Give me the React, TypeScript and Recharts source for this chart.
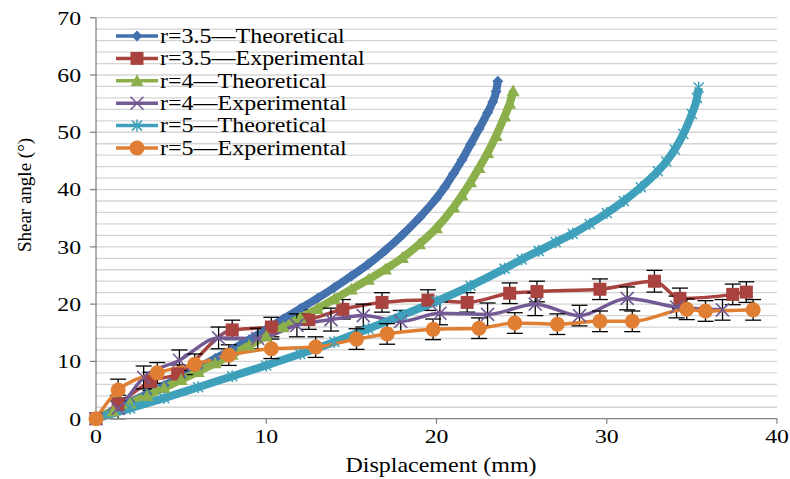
import React from 'react';
import { LineChart, Line, XAxis, YAxis, CartesianGrid, ErrorBar } from 'recharts';

const FONT = '"Liberation Serif", "Times New Roman", Times, serif';

// Theoretical curves
const t35X = [0, 1, 2, 3, 4, 5, 6, 7, 8, 9, 10, 11, 12, 13, 14, 15, 16, 17, 18, 19, 20, 20.5, 21, 21.5, 22, 22.5, 23, 23.3, 23.5, 23.6];
const t35Y = [0, 1.4, 2.9, 4.3, 5.8, 7.3, 8.9, 10.5, 12.1, 13.8, 15.6, 17.4, 19.2, 21.0, 22.9, 24.9, 27.0, 29.4, 32.1, 35.1, 38.5, 40.5, 42.8, 45.2, 47.9, 50.6, 53.4, 55.3, 57.1, 58.9];

const t4X = [0, 1, 2, 3, 4, 5, 6, 7, 8, 9, 10, 11, 12, 13, 14, 15, 16, 17, 18, 19, 20, 21, 21.5, 22, 22.5, 23, 23.5, 24, 24.3, 24.5];
const t4Y = [0, 1.3, 2.7, 4.0, 5.4, 6.8, 8.2, 9.7, 11.2, 12.8, 14.4, 16.0, 17.6, 19.2, 20.9, 22.6, 24.3, 26.1, 28.1, 30.5, 33.3, 36.9, 39.0, 41.3, 43.8, 46.4, 49.4, 52.8, 55.0, 57.2];

const t5X = [0, 2, 4, 6, 8, 10, 12, 14, 16, 18, 20, 22, 24, 25, 26, 27, 28, 29, 30, 31, 32, 33, 33.5, 34, 34.5, 35, 35.3, 35.4];
const t5Y = [0, 1.8, 3.6, 5.5, 7.4, 9.3, 11.3, 13.4, 15.7, 18.1, 20.5, 23.2, 26.2, 27.8, 29.3, 30.8, 32.3, 34.0, 35.9, 38.0, 40.4, 43.2, 44.9, 47.0, 49.7, 53.2, 56.0, 57.8];

// Experimental curves
const e35X = [0, 1.3, 3.2, 4.8, 8.0, 10.3, 12.5, 14.5, 16.8, 19.5, 21.8, 24.3, 25.9, 29.6, 32.8, 34.3, 37.4, 38.2];
const e35Y = [0, 2.5, 6.5, 7.8, 15.5, 16.0, 17.3, 19.1, 20.3, 20.7, 20.3, 21.9, 22.2, 22.6, 24.0, 21.0, 21.7, 22.1];
const e35E = [0, 1.6, 1.6, 1.6, 1.7, 1.7, 1.7, 1.7, 1.7, 1.8, 1.7, 1.8, 1.8, 1.8, 1.9, 1.8, 1.8, 1.8];

const e4X = [0, 1.3, 2.8, 4.9, 7.2, 9.5, 11.8, 13.8, 15.7, 17.9, 20.2, 23.0, 25.8, 28.4, 31.2, 34.1, 36.8];
const e4Y = [0, 1.8, 7.2, 10.2, 14.1, 14.0, 16.3, 17.3, 18.0, 17.0, 18.4, 18.2, 20.0, 18.0, 21.0, 19.5, 19.0];
const e4E = [0, 1.8, 2.0, 1.8, 1.9, 1.8, 2.0, 2.0, 2.0, 1.9, 2.0, 2.0, 2.0, 1.8, 2.0, 1.9, 1.8];

const e5X = [0, 1.3, 3.6, 5.8, 7.8, 10.3, 12.9, 15.3, 17.1, 19.8, 22.5, 24.6, 27.1, 29.6, 31.5, 34.7, 35.8, 38.6];
const e5Y = [0, 5.0, 8.0, 9.5, 11.1, 12.2, 12.5, 13.9, 14.8, 15.6, 15.8, 16.7, 16.5, 17.0, 17.0, 19.1, 18.8, 19.0];
const e5E = [0, 1.9, 1.8, 1.8, 1.8, 1.7, 1.8, 1.8, 1.8, 1.8, 1.8, 1.8, 1.8, 1.8, 1.8, 1.8, 1.8, 1.8];

const xTicks = [0, 10, 20, 30, 40];
const yTicks = [0, 10, 20, 30, 40, 50, 60, 70];
const gridY = [2, 4, 6, 8, 10, 12, 14, 16, 18, 20, 22, 24, 26, 28, 30, 32, 34, 36, 38, 40, 42, 44, 46, 48, 50, 52, 54, 56, 58, 60, 62, 64, 66, 68, 70];
const Y_MAX = 70;

const toData = (xs: number[], ys: number[], es?: number[]) =>
  xs.map((x, i) => ({ x, y: ys[i], e: es ? es[i] : 0 }));

type Shape = 'diamond' | 'square' | 'triangle' | 'x' | 'star' | 'circle';

const drawMarker = (shape: Shape, cx: number, cy: number, color: string, key?: string) => {
  if (cx == null || cy == null || isNaN(cx) || isNaN(cy)) return <g key={key} />;
  switch (shape) {
    case 'diamond': {
      const s = 5.5;
      return <polygon key={key} points={`${cx},${cy - s} ${cx + s},${cy} ${cx},${cy + s} ${cx - s},${cy}`} fill={color} />;
    }
    case 'square': {
      const s = 6.5;
      return <rect key={key} x={cx - s} y={cy - s} width={2 * s} height={2 * s} fill={color} />;
    }
    case 'triangle': {
      const s = 6.5;
      return <polygon key={key} points={`${cx},${cy - s} ${cx + s},${cy + s * 0.8} ${cx - s},${cy + s * 0.8}`} fill={color} />;
    }
    case 'x': {
      const s = 6.5;
      return (
        <g key={key} stroke={color} strokeWidth={1.6}>
          <line x1={cx - s} y1={cy - s} x2={cx + s} y2={cy + s} />
          <line x1={cx - s} y1={cy + s} x2={cx + s} y2={cy - s} />
        </g>
      );
    }
    case 'star': {
      const s = 5;
      return (
        <g key={key} stroke={color} strokeWidth={1.5}>
          <line x1={cx - s} y1={cy - s} x2={cx + s} y2={cy + s} />
          <line x1={cx - s} y1={cy + s} x2={cx + s} y2={cy - s} />
          <line x1={cx} y1={cy - s * 1.2} x2={cx} y2={cy + s * 1.2} />
        </g>
      );
    }
    default:
      return <circle key={key} cx={cx} cy={cy} r={7.5} fill={color} />;
  }
};

const series = [
  { name: 'r=3.5\u2014Theoretical', color: '#4271AE', shape: 'diamond' as Shape, data: toData(t35X, t35Y), width: 8, err: false },
  { name: 'r=3.5\u2014Experimental', color: '#A9433F', shape: 'square' as Shape, data: toData(e35X, e35Y, e35E), width: 3.5, err: true },
  { name: 'r=4\u2014Theoretical', color: '#8BAF4A', shape: 'triangle' as Shape, data: toData(t4X, t4Y), width: 8, err: false },
  { name: 'r=4\u2014Experimental', color: '#735A95', shape: 'x' as Shape, data: toData(e4X, e4Y, e4E), width: 3.5, err: true },
  { name: 'r=5\u2014Theoretical', color: '#3FA0BB', shape: 'star' as Shape, data: toData(t5X, t5Y), width: 8, err: false },
  { name: 'r=5\u2014Experimental', color: '#E07F34', shape: 'circle' as Shape, data: toData(e5X, e5Y, e5E), width: 3.5, err: true },
];

const YTick = (props: any) => {
  const { x, y, payload } = props;
  return (
    <text transform={`translate(${x},${y}) scale(1.25,1)`} textAnchor="end" dy="0.36em" fontSize={19} fontFamily={FONT} fill="#000">
      {payload.value}
    </text>
  );
};

const XTick = (props: any) => {
  const { x, y, payload } = props;
  return (
    <text transform={`translate(${x},${y}) scale(1.25,1)`} textAnchor="middle" dy="0.72em" fontSize={19} fontFamily={FONT} fill="#000">
      {payload.value}
    </text>
  );
};

const gridGen = (props: any) => {
  const { yAxis, offset } = props;
  if (yAxis && typeof yAxis.scale === 'function') {
    return gridY.map((v) => yAxis.scale(v));
  }
  return gridY.map((v) => offset.top + offset.height * (1 - v / Y_MAX));
};

const LegendBox = () => (
  <svg width={270} height={140} style={{ position: 'absolute', left: 100, top: 22, display: 'block' }}>
    {series.map((s, i) => {
      const cy = 14 + i * 22.4;
      return (
        <g key={s.name}>
          <line x1={16} x2={58} y1={cy} y2={cy} stroke={s.color} strokeWidth={3.5} />
          {drawMarker(s.shape, 37, cy, s.color)}
          <text transform={`translate(60,${cy}) scale(1.2,1)`} dy="0.34em" fontSize={20} fontFamily={FONT} fill="#000">
            {s.name}
          </text>
        </g>
      );
    })}
  </svg>
);

export default function App() {
  return (
    <div style={{ position: 'absolute', left: 0, top: 0, width: 790, height: 479, background: '#fff' }}>
      <LineChart width={790} height={479} margin={{ top: 17.7, right: 13, bottom: 30, left: 36 }}>
        <CartesianGrid
          vertical={false}
          horizontalCoordinatesGenerator={gridGen}
          stroke="#D4D4D4"
          strokeWidth={1.3}
        />
        <XAxis
          type="number"
          dataKey="x"
          domain={[0, 40]}
          ticks={xTicks}
          height={30.3}
          tickSize={5}
          tickMargin={6}
          stroke="#868686"
          strokeWidth={1.3}
          tick={<XTick />}
          label={{
            content: () => (
              <text transform="translate(441,465) scale(1.2,1)" textAnchor="middle" dy="0.35em" fontSize={20} fontFamily={FONT} fill="#000">
                Displacement (mm)
              </text>
            ),
          }}
        />
        <YAxis
          type="number"
          domain={[0, Y_MAX]}
          ticks={yTicks}
          width={60}
          tickSize={6}
          tickMargin={9}
          stroke="#868686"
          strokeWidth={1.3}
          tick={<YTick />}
          label={{
            content: () => (
              <text transform="translate(24,195) rotate(-90)" textAnchor="middle" dy="0.35em" fontSize={19} fontFamily={FONT} fill="#000">
                Shear angle (°)
              </text>
            ),
          }}
        />
        {series.map((s) => (
          <Line
            key={s.name}
            name={s.name}
            data={s.data}
            dataKey="y"
            type="monotone"
            stroke={s.color}
            strokeWidth={s.width}
            isAnimationActive={false}
            legendType="none"
            dot={(p: any) => drawMarker(s.shape, p.cx, p.cy, s.color, `${s.name}-${p.index}`)}
            activeDot={false}
          >
            {s.err ? <ErrorBar dataKey="e" width={8} stroke="#000" strokeWidth={1.3} direction="y" /> : null}
          </Line>
        ))}
      </LineChart>
      <LegendBox />
    </div>
  );
}
